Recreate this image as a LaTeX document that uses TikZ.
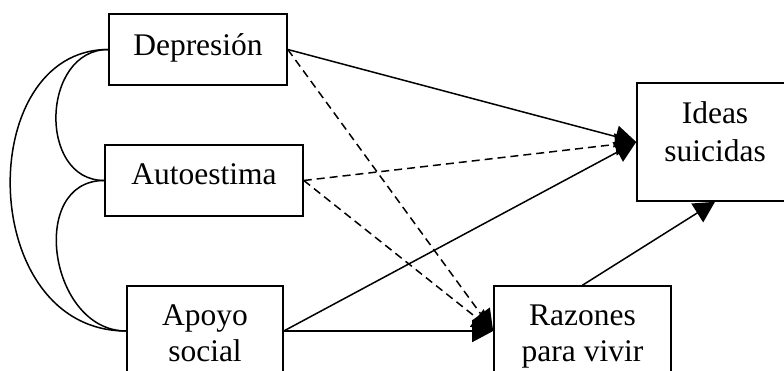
\documentclass[tikz,border=0pt]{standalone}
\usepackage{fontspec}
\setmainfont{Liberation Serif}
\usetikzlibrary{arrows.meta}
\begin{document}
\begin{tikzpicture}[x=1pt,y=-1pt,
  box/.style={draw, line width=1.6pt, inner sep=0pt},
  lbl/.style={anchor=base, inner sep=0pt, font=\fontsize{31.5}{37}\selectfont},
  link/.style={line width=1.5pt, -{Triangle[length=21pt,width=22pt]}},
  dlink/.style={link, dash pattern=on 8pt off 5pt},
  corr/.style={line width=1.5pt}]
\clip (0,0) rectangle (784,371);
% boxes
\node[box, minimum width=178pt, minimum height=71pt] (dep) at (198,49.5) {};
\node[box, minimum width=198pt, minimum height=71pt] (aut) at (204,180.5) {};
\node[box, minimum width=156pt, minimum height=90pt] (apo) at (205,331) {};
\node[box, minimum width=177pt, minimum height=90pt] (raz) at (582.5,331) {};
\node[box, minimum width=156pt, minimum height=118pt] (ide) at (715,142) {};
% labels
\node[lbl] (depT) at (198,56) {Depresión};
\node[lbl] (autT) at (204,185) {Autoestima};
\node[lbl] (apoT1) at (205,325) {Apoyo};
\node[lbl] (apoT2) at (205,361) {social};
\node[lbl] (razT1) at (582.5,325) {Razones};
\node[lbl] (razT2) at (582.5,361) {para vivir};
\node[lbl] (ideT1) at (715,124) {Ideas};
\node[lbl] (ideT2) at (715,162) {suicidas};
% correlations
\draw[corr] (dep.west) .. controls +(-67,0) and +(-67,0) .. (aut.west);
\draw[corr] (aut.west) .. controls +(-77,0) and +(-77,0) .. (apo.west);
\draw[corr] (dep.west) .. controls +(-135,0) and +(-150,0) .. (apo.west);
% paths
\draw[link] (dep.east) -- (ide.west);
\draw[dlink] (aut.east) -- (ide.west);
\draw[link] (apo.east) -- (ide.west);
\draw[dlink] (dep.east) -- (raz.west);
\draw[dlink] (aut.east) -- (raz.west);
\draw[link] (apo.east) -- (raz.west);
\draw[link] (raz.north) -- (ide.south);
\end{tikzpicture}
\end{document}
